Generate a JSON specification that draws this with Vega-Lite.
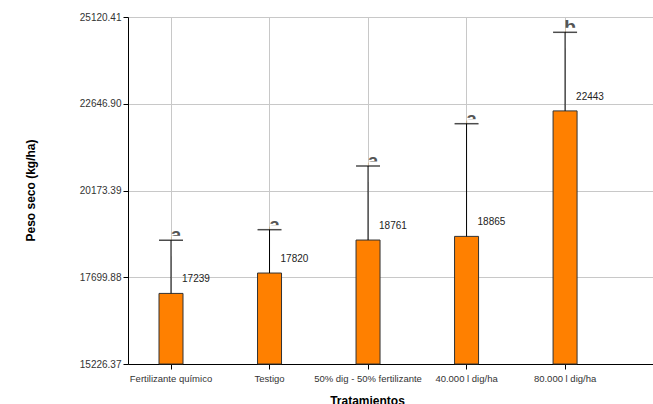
{
  "$schema": "https://vega.github.io/schema/vega-lite/v6.json",
  "width": 525,
  "height": 347,
  "autosize": {"type": "none"},
  "padding": {"left": 128, "top": 17, "right": 0, "bottom": 40},
  "background": "white",
  "config": {
    "view": {"stroke": null},
    "font": "Liberation Sans",
    "axis": {
      "domainColor": "#000000",
      "tickColor": "#000000",
      "gridColor": "#c8c8c8",
      "labelColor": "#333333",
      "labelFont": "Liberation Sans",
      "titleFont": "Liberation Sans",
      "titleFontWeight": "bold",
      "titleFontSize": 12,
      "titleColor": "#000000"
    }
  },
  "data": {
    "values": [
      {"trat": "Fertilizante químico", "peso": 17239, "sup": 18753, "letra": "a"},
      {"trat": "Testigo", "peso": 17820, "sup": 19056, "letra": "a"},
      {"trat": "50% dig - 50% fertilizante", "peso": 18761, "sup": 20872, "letra": "a"},
      {"trat": "40.000 l dig/ha", "peso": 18865, "sup": 22078, "letra": "a"},
      {"trat": "80.000 l dig/ha", "peso": 22443, "sup": 24684, "letra": "b"}
    ]
  },
  "encoding": {
    "x": {
      "field": "trat",
      "type": "nominal",
      "sort": null,
      "scale": {"type": "band", "paddingInner": 0.127, "paddingOuter": 0.228, "align": 0},
      "axis": {
        "title": "Tratamientos",
        "labelAngle": 0,
        "labelFontSize": 9.5,
        "grid": true,
        "tickSize": 5,
        "labelPadding": 4,
        "titleX": 239,
        "titleY": 40.5,
        "titleBaseline": "alphabetic",
        "titleAnchor": null,
        "titleAlign": "center"
      }
    }
  },
  "layer": [
    {
      "mark": {"type": "bar", "width": 24, "fill": "#FF8000", "stroke": "#333333", "strokeWidth": 1},
      "encoding": {
        "y": {
          "field": "peso",
          "type": "quantitative",
          "scale": {"domain": [15226.37, 25120.41], "zero": false, "nice": false},
          "axis": {
            "title": "Peso seco (kg/ha)",
            "values": [15226.37, 17699.88, 20173.39, 22646.90, 25120.41],
            "format": ".2f",
            "labelFontSize": 10,
            "grid": true,
            "tickSize": 5,
            "labelPadding": 2,
            "titleX": -98,
            "titleY": 173,
            "titleAnchor": null,
            "titleBaseline": "middle"
          }
        },
        "y2": {"datum": 15226.37}
      }
    },
    {
      "mark": {"type": "text", "align": "center", "baseline": "alphabetic", "dx": 5, "dy": 1, "fontSize": 19, "fontWeight": "bold", "color": "#555555", "font": "Liberation Sans"},
      "encoding": {
        "y": {"field": "sup", "type": "quantitative"},
        "text": {"field": "letra", "type": "nominal"}
      }
    },
    {
      "mark": {"type": "bar", "width": 14, "xOffset": 7.5, "yOffset": -4.5, "y2Offset": 16, "fill": "#ffffff", "stroke": null},
      "encoding": {
        "y": {"field": "sup", "type": "quantitative"},
        "y2": {"field": "sup"}
      }
    },
    {
      "mark": {"type": "rule", "color": "#000000", "strokeWidth": 1},
      "encoding": {
        "y": {"field": "peso", "type": "quantitative"},
        "y2": {"field": "sup"}
      }
    },
    {
      "mark": {"type": "tick", "orient": "horizontal", "size": 24, "thickness": 1.5, "color": "#000000"},
      "encoding": {
        "y": {"field": "sup", "type": "quantitative"}
      }
    },
    {
      "mark": {"type": "text", "align": "left", "baseline": "middle", "dx": 11, "dy": -14, "fontSize": 10, "color": "#222222"},
      "encoding": {
        "y": {"field": "peso", "type": "quantitative"},
        "text": {"field": "peso", "type": "quantitative", "format": "d"}
      }
    }
  ]
}
